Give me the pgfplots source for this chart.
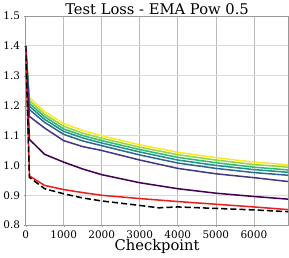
\documentclass[border=0pt]{standalone}
\usepackage{pgfplots}
\pgfplotsset{compat=1.18}
\usepackage{fontspec}
\setmainfont{DejaVu Serif}
\definecolor{v0}{HTML}{440154}
\definecolor{v1}{HTML}{443983}
\definecolor{v2}{HTML}{31688E}
\definecolor{v3}{HTML}{21918C}
\definecolor{v4}{HTML}{35B779}
\definecolor{v5}{HTML}{90D743}
\definecolor{v6}{HTML}{FDE725}
\definecolor{rd}{HTML}{E8201E}
\begin{document}
\begin{tikzpicture}
\begin{axis}[
  scale only axis,
  width=259pt, height=206pt,
  xmin=0, xmax=6910, ymin=0.8, ymax=1.5,
  xtick={0,1000,2000,3000,4000,5000,6000},
  ytick={0.8,0.9,1.0,1.1,1.2,1.3,1.4,1.5},
  yticklabel style={/pgf/number format/.cd,fixed,fixed zerofill,precision=1},
  scaled x ticks=false,
  xticklabel style={/pgf/number format/.cd,1000 sep={}},
  /pgf/number format/assume math mode=true,
  ticklabel style={font=\fontsize{10.3}{11}\selectfont},
  title={Test Loss - EMA Pow 0.5},
  title style={font=\fontsize{14.5}{16}\selectfont, yshift=-8pt},
  xlabel={Checkpoint},
  xlabel style={font=\fontsize{14.5}{16}\selectfont, yshift=6pt},
  grid=major,
  x grid style={gray!55, line width=0.6pt},
  y grid style={gray!30, line width=1pt},
  axis line style={gray!80},
  tick style={gray!80},
  tick align=outside,
  major tick length=2pt,
  xtick pos=bottom, ytick pos=left,
  every axis plot/.append style={line width=1.5pt, mark=none},
]
\addplot[color=v6] coordinates {(0,1.40)(100,1.227)(500,1.180)(1000,1.140)(1500,1.117)(2000,1.099)(3000,1.069)(4000,1.044)(5000,1.026)(6000,1.011)(6900,1.002)};
\addplot[color=v5] coordinates {(0,1.40)(100,1.217)(500,1.171)(1000,1.131)(1500,1.108)(2000,1.091)(3000,1.061)(4000,1.036)(5000,1.018)(6000,1.003)(6900,0.994)};
\addplot[color=v4] coordinates {(0,1.40)(100,1.207)(500,1.163)(1000,1.122)(1500,1.100)(2000,1.083)(3000,1.053)(4000,1.027)(5000,1.009)(6000,0.994)(6900,0.985)};
\addplot[color=v3] coordinates {(0,1.40)(100,1.198)(500,1.154)(1000,1.114)(1500,1.092)(2000,1.075)(3000,1.045)(4000,1.018)(5000,1.000)(6000,0.986)(6900,0.977)};
\addplot[color=v2] coordinates {(0,1.40)(100,1.187)(500,1.144)(1000,1.104)(1500,1.082)(2000,1.066)(3000,1.035)(4000,1.008)(5000,0.990)(6000,0.976)(6900,0.967)};
\addplot[color=v1] coordinates {(0,1.40)(100,1.164)(500,1.125)(1000,1.083)(1500,1.063)(2000,1.050)(3000,1.018)(4000,0.990)(5000,0.972)(6000,0.959)(6900,0.946)};
\addplot[color=v0] coordinates {(0,1.40)(100,1.087)(500,1.037)(1000,1.011)(1500,0.988)(2000,0.969)(3000,0.942)(4000,0.922)(5000,0.907)(6000,0.896)(6900,0.887)};
\addplot[color=rd] coordinates {(0,1.40)(100,0.965)(500,0.933)(1000,0.919)(1500,0.909)(2000,0.900)(3000,0.889)(4000,0.879)(5000,0.870)(6000,0.861)(6900,0.852)};
\addplot[color=black, dash pattern=on 6pt off 3pt] coordinates {(0,1.40)(100,0.960)(500,0.922)(1000,0.905)(1500,0.891)(2000,0.881)(3000,0.866)(3500,0.858)(4000,0.861)(5000,0.856)(6000,0.851)(6900,0.845)};
\end{axis}
\end{tikzpicture}
\end{document}
